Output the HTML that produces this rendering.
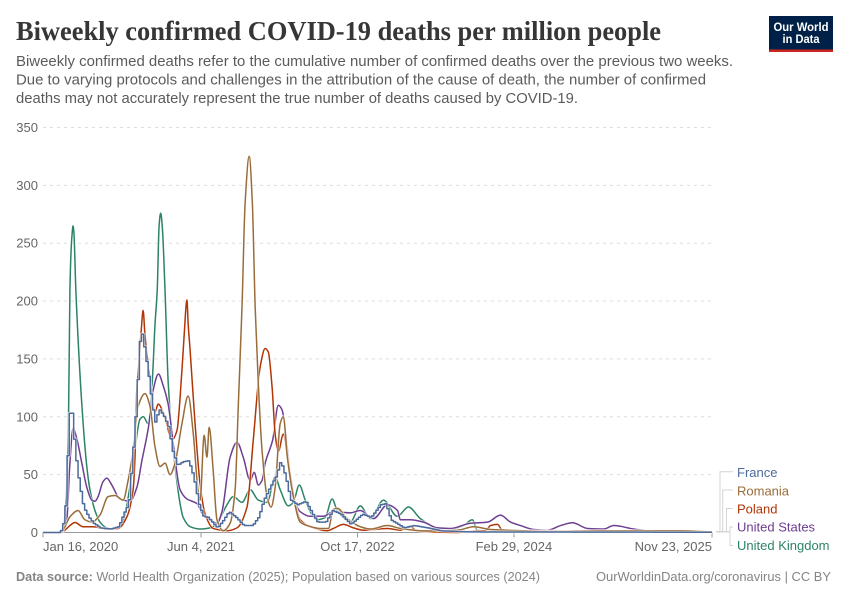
<!DOCTYPE html>
<html lang="en">
<head>
<meta charset="utf-8">
<title>Biweekly confirmed COVID-19 deaths per million people</title>
<style>
html,body{margin:0;padding:0;background:#fff;}
svg{display:block;font-family:"Liberation Sans",sans-serif;}
</style>
</head>
<body>
<svg id="chart" xmlns="http://www.w3.org/2000/svg" width="850" height="600" viewBox="0 0 850 600">
  <rect x="0" y="0" width="850" height="600" fill="#ffffff"/>
  <text x="16" y="40" font-family="'Liberation Serif',serif" font-weight="700" font-size="27" fill="#363636" textLength="645" lengthAdjust="spacingAndGlyphs">Biweekly confirmed COVID-19 deaths per million people</text>
  <g font-size="14.5" fill="#5b5b5b">
    <text x="16" y="66" textLength="717" lengthAdjust="spacingAndGlyphs">Biweekly confirmed deaths refer to the cumulative number of confirmed deaths over the previous two weeks.</text>
    <text x="16" y="84.5" textLength="690" lengthAdjust="spacingAndGlyphs">Due to varying protocols and challenges in the attribution of the cause of death, the number of confirmed</text>
    <text x="16" y="103" textLength="562" lengthAdjust="spacingAndGlyphs">deaths may not accurately represent the true number of deaths caused by COVID-19.</text>
  </g>
  <g>
    <rect x="769" y="16" width="64" height="36" fill="#002147"/>
    <rect x="769" y="49.5" width="64" height="2.5" fill="#ce261e"/>
    <text x="801" y="31" text-anchor="middle" font-size="12" font-weight="700" fill="#ffffff" textLength="55" lengthAdjust="spacingAndGlyphs">Our World</text>
    <text x="801" y="43" text-anchor="middle" font-size="12" font-weight="700" fill="#ffffff" textLength="37" lengthAdjust="spacingAndGlyphs">in Data</text>
  </g>
  <g id="grid"></g>
  <g id="yticks"></g>
  <g id="xaxis"></g>
  <g id="series"></g>
  <g fill="none" stroke="#d4d4d4" stroke-width="1">
    <path d="M716 531.7H720V471.7H733"/>
    <path d="M716 531.7H722.7V490H733"/>
    <path d="M716 531.7H726.5V508.5H733"/>
    <path d="M716 531.7H730V527H733"/>
    <path d="M716 531.7H730V545.5H733"/>
  </g>
  <g id="legend" font-size="13"></g>
  <text x="16" y="581" font-size="12.5" fill="#858585" textLength="524" lengthAdjust="spacingAndGlyphs"><tspan font-weight="700">Data source:</tspan> World Health Organization (2025); Population based on various sources (2024)</text>
  <text x="831" y="581" text-anchor="end" font-size="12.5" fill="#858585" textLength="235" lengthAdjust="spacingAndGlyphs">OurWorldinData.org/coronavirus | CC BY</text>
</svg>
<script>
const yTicks = [0, 50, 100, 150, 200, 250, 300, 350];
const xTickDays = [0, 505, 1005, 1505, 2138];
const xTickLabels = ["Jan 16, 2020", "Jun 4, 2021", "Oct 17, 2022", "Feb 29, 2024", "Nov 23, 2025"];

const franceDays = [0,54,67,74,81,92,96,108,118,128,144,160,182,214,240,256,272,288,300,304,314,323,336,348,358,368,384,400,412,428,444,464,480,496,512,524,556,576,592,614,640,668,688,704,720,742,758,774,790,812,838,860,876,902,924,950,982,1020,1046,1078,1094,1110,1152,1184,1228,1270,1366,2138];
const franceValues = [0,0,11,39,103,103,86,54,37,22,13.5,8,4,3,5,16,25,77,123,160,173,159,135,109,94,107,101,91,71,58,61,62,48,25,13.5,13.5,4,11,18,13.5,6,6,13.5,28,37,48,62,48,28,24,27,16,9,9,19,16,7,16,13,24,25,11,4,6,4,1.4,0.5,0.2];

const romaniaDays = [0,58,70,86,112,134,156,182,208,230,256,272,288,304,326,342,358,374,390,406,422,444,464,480,496,502,515,524,531,543,556,576,598,614,624,636,646,659,669,678,688,700,716,729,742,758,768,781,800,822,844,886,912,928,940,972,1014,1046,1101,1142,1216,1325,1376,1430,1485,1626,1782,2038,2138];
const romaniaValues = [0,0,5,13.5,19,11,9,15,31,32,28,45,71,109,120,109,74,57,60,50,60,94,118,86,35,28,84,65,91,57,11,1.5,8,37,109,195,285,325,285,195,129,71,31,22,39,94,100,65,31,9,6,3.5,3.5,20,21,12,5,3,6,3.5,1.4,2,5,2.6,2,1,1.5,1.5,0.5];

const polandDays = [0,58,76,86,102,128,160,204,240,268,288,294,299,304,314,320,326,342,352,358,368,390,412,428,444,451,460,464,470,486,502,518,544,588,620,652,672,694,710,720,732,742,752,768,784,806,822,854,908,928,960,992,1024,1101,1142,1174,1190,1248,1325,1389,1414,1430,1453,1466,1494,1782,2138];
const polandValues = [0,0,3.5,6,8.6,5,5,3,3.5,13.5,37,65,120,137,175,192,170,132,109,104,111,99,80,88,140,170,201,180,158,94,42,16,3.5,1.5,4,22,80,143,159,156,126,85,70,85,60,25,11,5,1.5,3.5,7,4,2,3.5,2,5.5,2,0.3,0,1.4,1.5,6,7,2.5,1.5,1,0.5];

const usDays = [0,58,67,76,86,96,109,124,140,156,166,176,192,204,220,246,278,300,316,337,352,369,384,400,416,438,460,492,512,534,556,572,598,620,640,662,675,688,700,710,734,752,764,780,800,822,854,896,928,982,1014,1056,1101,1133,1142,1174,1216,1261,1302,1366,1421,1462,1494,1526,1568,1612,1654,1692,1740,1792,1824,1888,1942,2048,2138];
const usValues = [0,0,2,11,60,90,80,60,39,28,27,31,44,47,41,29,27,39,62,91,123,137,127,111,77,37,29,25,15,11,8,18,65,78,65,45,52,41,45,60,80,110,106,74,31,18,14,14,18,17,19,12,24,19,11,11,9,4,3.5,8,9,15,9,6,2.6,2,6,8.4,3.5,3,6,3,1.4,1.4,0.3];

const ukDays = [0,58,67,74,81,86,90,93,96,99,105,124,140,150,166,182,204,230,256,278,294,310,321,336,349,358,365,371,376,381,390,400,412,422,438,448,470,502,534,556,588,608,636,662,688,716,742,758,784,800,819,838,854,876,902,924,940,960,982,1014,1036,1046,1088,1132,1168,1206,1260,1292,1344,1372,1388,1472,1782,2138];
const ukValues = [0,0,8,30,85,209,245,258,265,258,209,111,57,37,19,9,4,3,10,40,72,98,100,94,130,180,209,265,276,265,209,130,83,57,25,13,5,3,4,8,24,31,26,37,28,26,48,37,23,26,41,28,18,11,13,29,19,13,9,23,15,12,28,14,22,12,3.5,2,6,11,2,0.5,0.3,0.3];

const SVG_NS = "http://www.w3.org/2000/svg";
const domainDays = 2138;
const stepDays = 7;
const plotLeft = 43, plotRight = 712, plotBottom = 532.5, plotTop = 127.5, yMax = 350;
function xScale(d) { return plotLeft + (d / domainDays) * (plotRight - plotLeft); }
function yScale(v) { return plotBottom - (v / yMax) * (plotBottom - plotTop); }
function make(tag, attrs, parent) {
  const el = document.createElementNS(SVG_NS, tag);
  for (const k in attrs) el.setAttribute(k, attrs[k]);
  parent.appendChild(el);
  return el;
}
/* monotone cubic curve through the data points */
function curvePath(days, values) {
  const xs = days.map(xScale), ys = values.map(yScale), n = xs.length;
  const slopes = [];
  for (let i = 0; i < n - 1; i++) slopes.push((ys[i + 1] - ys[i]) / (xs[i + 1] - xs[i]));
  const tangents = [slopes[0]];
  for (let i = 1; i < n - 1; i++) {
    tangents.push(slopes[i - 1] * slopes[i] <= 0 ? 0 : 2 * slopes[i - 1] * slopes[i] / (slopes[i - 1] + slopes[i]));
  }
  tangents.push(slopes[n - 2]);
  let p = "M" + xs[0].toFixed(2) + " " + ys[0].toFixed(2);
  for (let i = 0; i < n - 1; i++) {
    const h = (xs[i + 1] - xs[i]) / 3;
    p += "C" + (xs[i] + h).toFixed(2) + " " + (ys[i] + h * tangents[i]).toFixed(2) + " " +
      (xs[i + 1] - h).toFixed(2) + " " + (ys[i + 1] - h * tangents[i + 1]).toFixed(2) + " " +
      xs[i + 1].toFixed(2) + " " + ys[i + 1].toFixed(2);
  }
  return p;
}
/* weekly-reporting staircase drawn along the data */
function stepPath(days, values) {
  let seg = 0;
  function valueAt(d) {
    while (seg < days.length - 2 && days[seg + 1] < d) seg++;
    const t = (d - days[seg]) / (days[seg + 1] - days[seg]);
    return values[seg] + t * (values[seg + 1] - values[seg]);
  }
  let p = "M" + xScale(days[0]).toFixed(2) + " " + yScale(values[0]).toFixed(2);
  for (let d = stepDays; d <= days[days.length - 1]; d += stepDays) {
    p += "H" + xScale(d).toFixed(2) + "V" + yScale(valueAt(d)).toFixed(2);
  }
  return p + "H" + xScale(days[days.length - 1]).toFixed(2);
}

const grid = document.getElementById("grid");
const yLabels = document.getElementById("yticks");
yTicks.forEach(function (t) {
  const label = make("text", { x: 38, y: yScale(t) + 4.5, "text-anchor": "end", "font-size": 13, fill: "#666666" }, yLabels);
  
  
  label.textContent = t;
  if (t === 0) return;
  const line = make("line", { x1: plotLeft, x2: plotRight, y1: yScale(t), y2: yScale(t), stroke: "#dddddd", "stroke-dasharray": "3,4" }, grid);
  
  
});

const xAxis = document.getElementById("xaxis");
const axisLine = make("line", { x1: plotLeft, x2: plotRight, y1: plotBottom, y2: plotBottom, stroke: "#999999" }, xAxis);


xTickDays.forEach(function (d, i) {
  const tick = make("line", { x1: xScale(d), x2: xScale(d), y1: plotBottom, y2: plotBottom + 5, stroke: "#999999" }, xAxis);
  
  
  const anchor = i === 0 ? "start" : (i === xTickDays.length - 1 ? "end" : "middle");
  const label = make("text", { x: xScale(d), y: 551, "text-anchor": anchor, "font-size": 13, fill: "#666666" }, xAxis);
  
  
  label.textContent = xTickLabels[i];
});

const seriesGroup = document.getElementById("series");
function drawSeries(name, d, color) {
  const halo = make("path", { d: d, fill: "none", stroke: "#ffffff", "stroke-width": 3, "stroke-linejoin": "round", opacity: 0.7 }, seriesGroup);
  
  
  const line = make("path", { d: d, fill: "none", stroke: color, "stroke-width": 1.5, "stroke-linejoin": "round" }, seriesGroup);
  
  
}
drawSeries("united-kingdom", curvePath(ukDays, ukValues), "#2c8465");
drawSeries("united-states", curvePath(usDays, usValues), "#6d3e91");
drawSeries("poland", curvePath(polandDays, polandValues), "#b13507");
drawSeries("romania", curvePath(romaniaDays, romaniaValues), "#996d39");
drawSeries("france", stepPath(franceDays, franceValues), "#4c6a9c");

const legendNames = ["France", "Romania", "Poland", "United States", "United Kingdom"];
const legendColors = ["#4c6a9c", "#996d39", "#b13507", "#6d3e91", "#2c8465"];
const legendBaselines = [477, 495.5, 513.5, 531.5, 550];
const legend = document.getElementById("legend");
legendNames.forEach(function (n, i) {
  const t = make("text", { x: 737, y: legendBaselines[i], fill: legendColors[i] }, legend);
  
  
  t.textContent = n;
});
</script>
</body>
</html>
